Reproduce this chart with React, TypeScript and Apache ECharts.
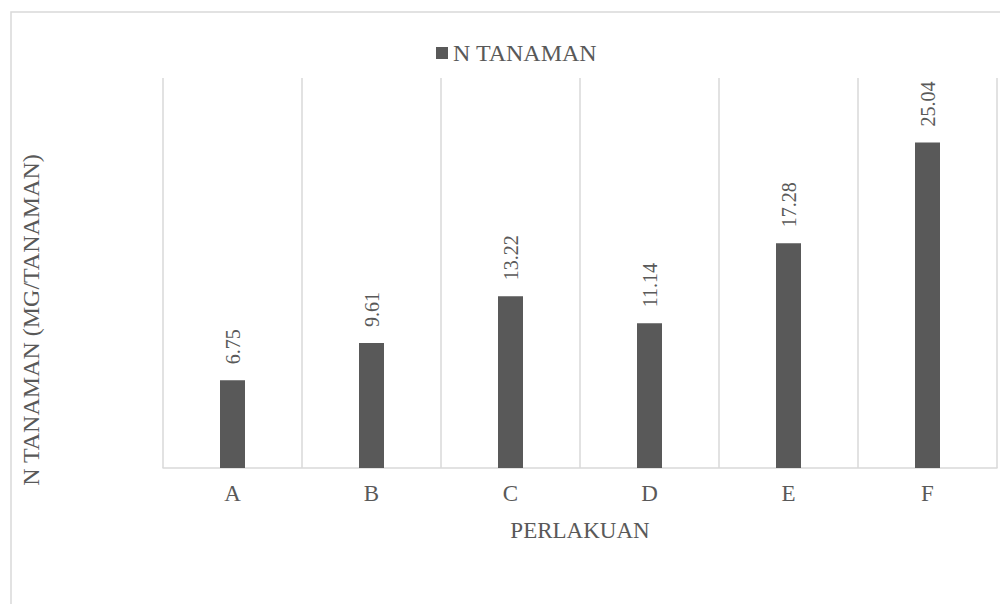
import React, { useEffect, useRef } from "react";
import * as echarts from "echarts";

const categories = ["A", "B", "C", "D", "E", "F"];
const values = [6.75, 9.61, 13.22, 11.14, 17.28, 25.04];
const seriesName = "N TANAMAN";
const xTitle = "PERLAKUAN";
const yTitle = "N TANAMAN (MG/TANAMAN)";

const FONT = "Liberation Serif, Times New Roman, serif";
const TEXT = "#595959";
const GRID = "#d9d9d9";

export default function App() {
  const ref = useRef<HTMLDivElement>(null);
  useEffect(() => {
    if (!ref.current) return;
    const chart = echarts.init(ref.current, undefined, { renderer: "svg" });
    chart.setOption({
      animation: false,
      backgroundColor: "#ffffff",
      textStyle: { fontFamily: FONT },
      legend: {
        data: [seriesName],
        left: 431,
        top: 36,
        itemWidth: 12,
        itemHeight: 12,
        icon: "rect",
        textStyle: { fontFamily: FONT, fontSize: 24, color: TEXT },
      },
      grid: { left: 163, right: 3, top: 78, bottom: 136, containLabel: false },
      xAxis: {
        type: "category",
        data: categories,
        name: xTitle,
        nameLocation: "middle",
        nameGap: 51,
        nameTextStyle: { fontFamily: FONT, fontSize: 23, color: TEXT },
        axisLine: { show: true, lineStyle: { color: GRID, width: 1.5 } },
        axisTick: { show: false },
        axisLabel: { margin: 14, fontFamily: FONT, fontSize: 23, color: TEXT },
        splitLine: { show: true, lineStyle: { color: GRID, width: 1.5 } },
      },
      yAxis: {
        type: "value",
        min: 0,
        max: 30,
        interval: 5,
        show: false,
        splitLine: { show: false },
      },
      graphic: [
        {
          type: "rect",
          shape: { x: 11, y: 12, width: 1100, height: 800 },
          style: { fill: "none", stroke: GRID, lineWidth: 1.5 },
          silent: true,
          z: -1,
        },
        {
          type: "text",
          x: 31,
          y: 320,
          rotation: Math.PI / 2,
          style: {
            text: yTitle,
            fontFamily: FONT,
            fontSize: 24,
            fill: TEXT,
            align: "center",
            verticalAlign: "middle",
          },
        },
      ],
      series: [
        {
          name: seriesName,
          type: "bar",
          data: values,
          barWidth: 25,
          itemStyle: { color: "#595959" },
          label: {
            show: true,
            position: "top",
            rotate: 90,
            align: "left",
            verticalAlign: "middle",
            distance: 16,
            fontFamily: FONT,
            fontSize: 20,
            color: TEXT,
            formatter: (p: any) => p.value.toFixed(2),
          },
        },
      ],
    });
    return () => chart.dispose();
  }, []);
  return (
    <div
      ref={ref}
      style={{ position: "absolute", left: 0, top: 0, width: 1000, height: 604, fontFamily: FONT }}
    />
  );
}
